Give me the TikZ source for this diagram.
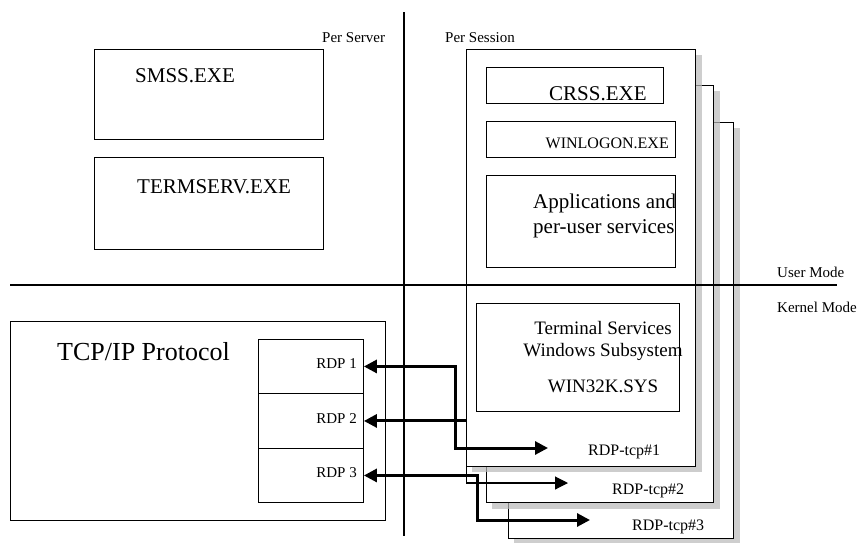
\documentclass[tikz,border=0pt]{standalone}
\usepackage{fontspec}
\setmainfont{Liberation Serif}
\usepackage{tikz}
\usetikzlibrary{arrows.meta}

\begin{document}
\begin{tikzpicture}[x=1pt, y=-1pt,
    box/.style={draw, line width=1.3pt, fill=white, inner sep=0pt, anchor=north west},
    cell/.style={draw, line width=0.9pt, inner sep=0pt, anchor=north west, minimum width=105pt},
    shadow/.style={fill=gray!55, fill opacity=0.7},
    txt/.style={inner sep=0pt, anchor=base west, font=\fontsize{#1}{#1}\selectfont},
    rtxt/.style={inner sep=0pt, anchor=base east, font=\fontsize{#1}{#1}\selectfont},
    tip/.tip={Triangle[length=13pt, width=13pt]},
    conn/.style={line width=3pt},
    thinconn/.style={line width=1.1pt}]
    \useasboundingbox (0,0) rectangle (863,542);
    \draw[line width=1.3pt] (404,12) -- (404,536);
    \node[txt=15] (server) at (322,42) {Per Server};
    \node[txt=15] (session) at (445,42) {Per Session};
    \node[txt=15] (user) at (777,277) {User Mode};
    \node[txt=15] (kernel) at (777,312) {Kernel Mode};
    \node[box, minimum width=229pt, minimum height=90pt] (smss) at (94,49) {};
    \node[txt=21] at (135,82) {SMSS.EXE};
    \node[box, minimum width=229pt, minimum height=92pt] (termserv) at (94,157) {};
    \node[txt=21] at (137,193) {TERMSERV.EXE};
    \node[box, minimum width=375pt, minimum height=199pt] (tcpip) at (10,321) {};
    \node[txt=26] at (57,360) {TCP/IP Protocol};
    \node[cell, minimum height=54pt] (rdp1) at (258,339) {};
    \node[cell, minimum height=55pt] (rdp2) at (258,393) {};
    \node[cell, minimum height=54pt] (rdp3) at (258,448) {};
    \node[rtxt=15] at (357,368) {RDP 1};
    \node[rtxt=15] at (357,423) {RDP 2};
    \node[rtxt=15] at (357,477) {RDP 3};
    \fill[shadow] (514,128) rectangle (740,544);
    \node[box, minimum width=225pt, minimum height=416pt] (sess3) at (508,122) {};
    \fill[shadow] (492,91) rectangle (720,509);
    \node[box, minimum width=227pt, minimum height=417pt] (sess2) at (486,85) {};
    \fill[shadow] (472,55) rectangle (702,472);
    \node[box, minimum width=229pt, minimum height=417pt] (sess1) at (466,49) {};
    \node[box, minimum width=177pt, minimum height=36pt] (csrss) at (486,67) {};
    \node[txt=21] at (549,100) {CRSS.EXE};
    \node[box, minimum width=189pt, minimum height=36pt] (winlogon) at (486,121) {};
    \node[rtxt=16] at (669,148) {WINLOGON.EXE};
    \node[box, minimum width=189pt, minimum height=92pt] (apps) at (486,175) {};
    \node[txt=21] at (533,208) {Applications and};
    \node[txt=21] at (533,233) {per-user services};
    \node[box, minimum width=203pt, minimum height=108pt] (win32k) at (476,303) {};
    \node[inner sep=0pt, anchor=base, font=\fontsize{19}{19}\selectfont] at (603,334) {Terminal Services};
    \node[inner sep=0pt, anchor=base, font=\fontsize{19}{19}\selectfont] at (603,356) {Windows Subsystem};
    \node[inner sep=0pt, anchor=base, font=\fontsize{19}{19}\selectfont] at (603,392) {WIN32K.SYS};
    \draw[line width=1.3pt] (10,285) -- (837,285);
    \node[txt=16] (tcp1) at (588,455) {RDP-tcp\#1};
    \node[txt=16] (tcp2) at (612,494) {RDP-tcp\#2};
    \node[txt=16] (tcp3) at (632,530) {RDP-tcp\#3};
    \coordinate (end1) at (548,448);
    \coordinate (end2) at (568,483);
    \coordinate (end3) at (590,520);
    \draw[conn, tip-tip] (rdp1.east) -- ++(92,0) |- (end1);
    \draw[conn, tip-] (rdp2.east) -- ++(103,0) coordinate (bend2);
    \draw[thinconn, -tip] (bend2) |- (end2);
    \draw[conn, tip-tip] (rdp3.east) -- ++(114,0) |- (end3);
\end{tikzpicture}
\end{document}
